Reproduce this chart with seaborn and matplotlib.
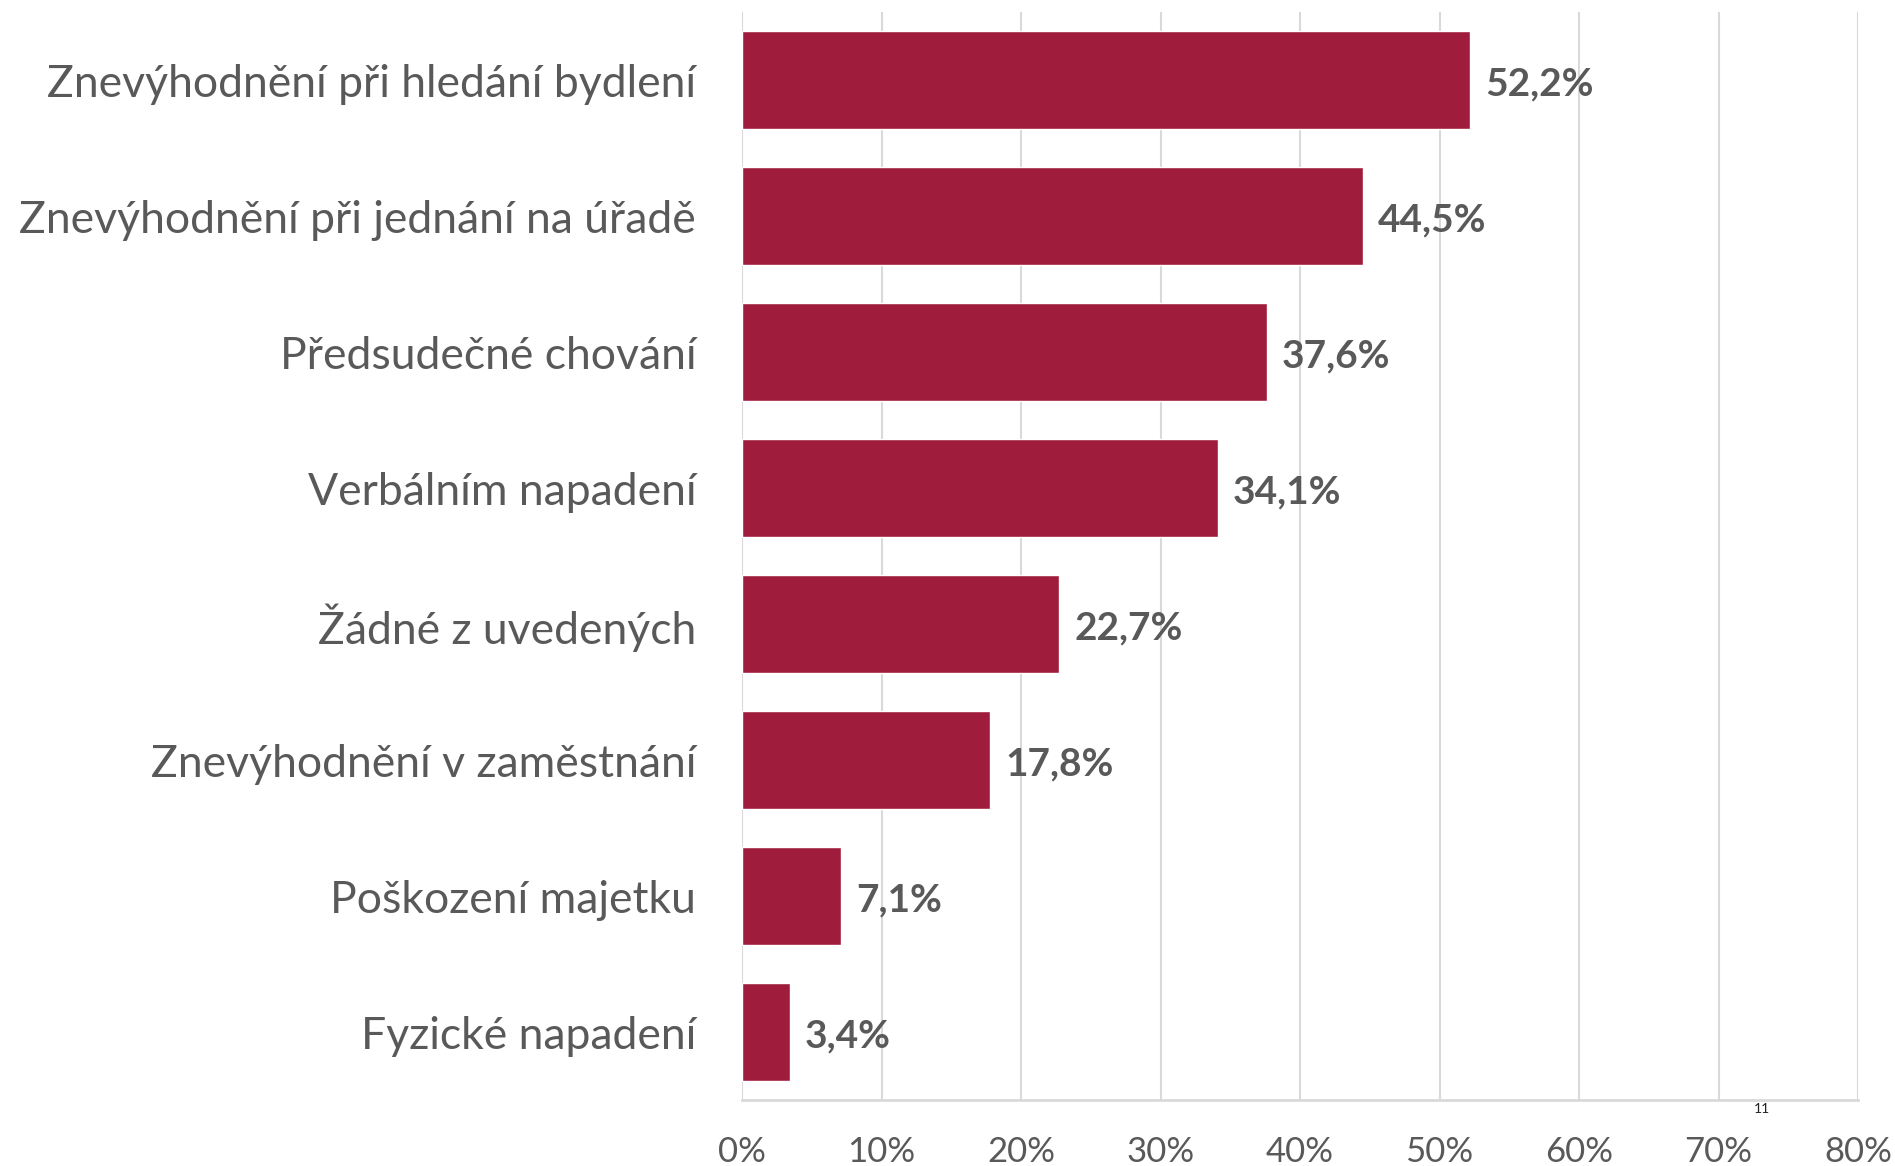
import matplotlib
matplotlib.use('Agg')
import matplotlib.pyplot as plt
import seaborn as sns
import pandas as pd

sns.set_style('white')
plt.rcParams['font.family'] = ['Lato', 'DejaVu Sans']

categories = ['Znevýhodnění při hledání bydlení',
              'Znevýhodnění při jednání na úřadě',
              'Předsudečné chování',
              'Verbálním napadení',
              'Žádné z uvedených',
              'Znevýhodnění v zaměstnání',
              'Poškození majetku',
              'Fyzické napadení']
values = [52.2, 44.5, 37.6, 34.1, 22.7, 17.8, 7.1, 3.4]
xticks = [0, 10, 20, 30, 40, 50, 60, 70, 80]
xticklabels = [f'{t}%' for t in xticks]

df = pd.DataFrame({'kategorie': categories, 'podil': values})

barColor = '#A01C3C'
textColor = '#595959'
gridColor = '#D9D9D9'

fig = plt.figure(figsize=(18.95, 11.66), dpi=100)
ax = fig.add_axes([0.3916, 0.0566, 0.9805 - 0.3916, 0.9897 - 0.0566])

sns.barplot(data=df, x='podil', y='kategorie', orient='h', color=barColor,
            width=0.72, saturation=1, ax=ax)

# popisky hodnot s desetinnou čárkou
labels = [f'{v:.1f}%'.replace('.', ',') for v in values]
texts = ax.bar_label(ax.containers[0], labels=labels, padding=11, fontsize=28,
                     fontweight='bold', color=textColor)
for t in texts:
    t.set_va('center')
    x, y = t.xyann
    t.xyann = (x, y - 3)

ax.set_xlim(0, 80)
ax.set_ylim(7.5, -0.5)
ax.set_xticks(xticks)
ax.set_xticklabels(xticklabels)
ax.set_xlabel('')
ax.set_ylabel('')
ax.tick_params(axis='x', length=0, pad=26, labelsize=25, labelcolor=textColor)
ax.tick_params(axis='y', length=0, pad=33, labelsize=32, labelcolor=textColor)

ax.grid(axis='x', color=gridColor, linewidth=1.5)
ax.set_axisbelow(True)
for side in ['top', 'right', 'left']:
    ax.spines[side].set_visible(False)
ax.spines['bottom'].set_color(gridColor)
ax.spines['bottom'].set_linewidth(2)

fig.text(0.93, 0.049, '11', fontsize=10, color='#222222', ha='center', va='center')

fig.savefig('out.png', dpi=100)
